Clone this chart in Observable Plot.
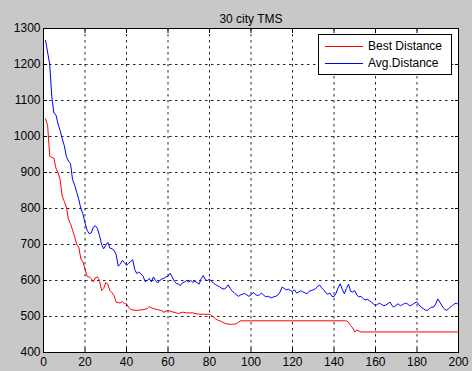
<!DOCTYPE html>
<html><head><meta charset="utf-8">
<script src="https://cdn.jsdelivr.net/npm/d3@7"></script>
<script src="https://cdn.jsdelivr.net/npm/@observablehq/plot@0.6"></script>
<style>
body{margin:0;background:#c8c8c8;}
#wrap{position:relative;width:472px;height:371px;}
#legend{position:absolute;left:318px;top:34px;width:132px;height:39px;border:1px solid #000;background:#fff;font:12px "Liberation Sans",Arial,sans-serif;color:#000;}
.sw{position:absolute;left:6px;width:38px;height:1px;}
.lab{position:absolute;left:49px;line-height:14px;}
</style></head><body><div id="wrap"></div>
<script>
const title = "30 city TMS";
const seriesNames = ["Best Distance", "Avg.Distance"];
const seriesColors = ["#ff0000", "#0000ff"];
const xTicks = [0, 20, 40, 60, 80, 100, 120, 140, 160, 180, 200];
const yTicks = [400, 500, 600, 700, 800, 900, 1000, 1100, 1200, 1300];

// Avg.Distance (blue)
const avgGen = [1,3,4,5,6,7,8,9,10,11,12,13,14,15,16,17,18,19,20,21,22,23,24,25,26,27,28,29,30,31,32,33,34,35,36,37,38,39,40,41,42,43,44,45,46,47,48,49,50,51,52,53,54,55,56,57,58,59,60,61,62,63,64,65,66,67,68,69,70,71,72,73,74,75,76,77,78,79,80,81,82,83,84,85,86,87,88,89,90,91,92,93,94,95,96,97,98,99,100,101,102,103,104,105,106,107,108,109,110,111,112,113,114,115,116,117,118,119,120,121,122,123,124,125,126,127,128,129,130,131,132,133,134,135,136,137,138,139,140,141,142,143,144,145,146,147,148,149,150,151,152,153,154,155,156,157,158,159,160,161,162,163,164,165,166,167,168,169,170,171,172,173,174,175,176,177,178,179,180,181,182,183,184,185,186,187,188,189,190,191,192,193,194,195,196,197,198,199,200];
const avgVal = [1267,1200,1110,1065,1060,1035,1017,994,975,945,932,925,880,865,845,825,800,785,760,740,730,732,748,752,744,725,700,688,698,706,690,688,684,672,640,645,656,650,642,648,652,658,630,619,624,618,612,597,600,606,596,610,600,593,600,604,606,610,612,620,610,598,592,590,586,594,596,600,596,600,595,598,594,590,605,614,602,600,604,598,592,588,585,582,578,576,580,588,578,570,566,560,556,560,562,564,560,556,560,567,562,558,560,565,560,555,556,554,552,555,556,560,568,582,578,574,576,572,570,574,565,568,572,568,566,563,570,572,574,577,582,588,580,574,566,562,565,556,555,565,580,591,575,563,578,590,570,568,572,560,554,556,550,546,548,544,540,535,530,534,537,533,530,532,536,540,530,526,532,535,530,533,536,537,532,530,534,538,540,532,526,522,518,517,522,526,526,535,549,540,530,522,517,520,526,530,535,537,534];

// Best Distance (red)
const bestGen = [1,2,3,4,5,6,7,8,9,10,11,12,13,14,15,16,17,18,19,20,21,22,23,24,25,26,27,28,29,30,31,32,33,34,35,36,37,38,39,40,41,42,43,45,48,50,51,53,55,57,58,60,62,64,65,67,69,72,74,77,80,81,82,83,84,85,86,87,88,90,92,93,94,95,146,147,148,149,150,151,152,153,200];
const bestVal = [1049,1030,945,942,940,912,900,880,835,820,805,770,758,740,722,700,693,660,652,632,612,610,605,596,608,610,600,572,578,594,590,572,566,558,540,538,538,541,536,535,526,520,518,517,519,522,527,522,519,516,512,517,513,510,508,512,510,510,507,506,506,503,498,493,490,488,485,482,480,478,479,480,484,488,488,484,475,468,457,462,460,457,457];

const rows = [];
bestGen.forEach((g, i) => rows.push({gen: g, dist: bestVal[i], series: seriesNames[0]}));
avgGen.forEach((g, i) => rows.push({gen: g, dist: avgVal[i], series: seriesNames[1]}));

const chart = Plot.plot({
  width: 472, height: 371,
  marginLeft: 43, marginRight: 14, marginTop: 28, marginBottom: 19,
  style: {background: "#c8c8c8", fontFamily: "'Liberation Sans', Arial, sans-serif", fontSize: "12px", color: "black"},
  x: {domain: [0, 200]},
  y: {domain: [400, 1300]},
  color: {domain: seriesNames, range: seriesColors},
  marks: [
    Plot.frame({fill: "white"}),
    Plot.gridX(xTicks, {stroke: "black", strokeOpacity: 0.85, strokeDasharray: "2.5,3.5"}),
    Plot.gridY(yTicks, {stroke: "black", strokeOpacity: 0.85, strokeDasharray: "2.5,3.5"}),
    Plot.line(rows, {x: "gen", y: "dist", stroke: "series", z: "series", strokeWidth: 1}),
    Plot.axisX(xTicks, {tickSize: -4, tickPadding: 9, tickFormat: d => String(d), label: null}),
    Plot.axisX(xTicks, {anchor: "top", tickSize: -4, tickFormat: () => "", label: null}),
    Plot.axisY(yTicks, {tickSize: -4, tickPadding: 7, tickFormat: d => String(d), label: null}),
    Plot.axisY(yTicks, {anchor: "right", tickSize: -4, tickFormat: () => "", label: null}),
    Plot.frame({stroke: "black"}),
    Plot.text([title], {frameAnchor: "top", dy: -14, fontSize: 12})
  ]
});
const wrap = document.getElementById("wrap");
wrap.appendChild(chart);
const lg = document.createElement("div");
lg.id = "legend";
seriesNames.forEach((n, i) => {
  const y = i === 0 ? 10.5 : 28;
  const sw = document.createElement("div");
  sw.className = "sw"; sw.style.top = y + "px"; sw.style.background = seriesColors[i];
  const lb = document.createElement("div");
  lb.className = "lab"; lb.style.top = (y - 7) + "px"; lb.textContent = n;
  lg.appendChild(sw); lg.appendChild(lb);
});
wrap.appendChild(lg);
</script>
</body></html>
